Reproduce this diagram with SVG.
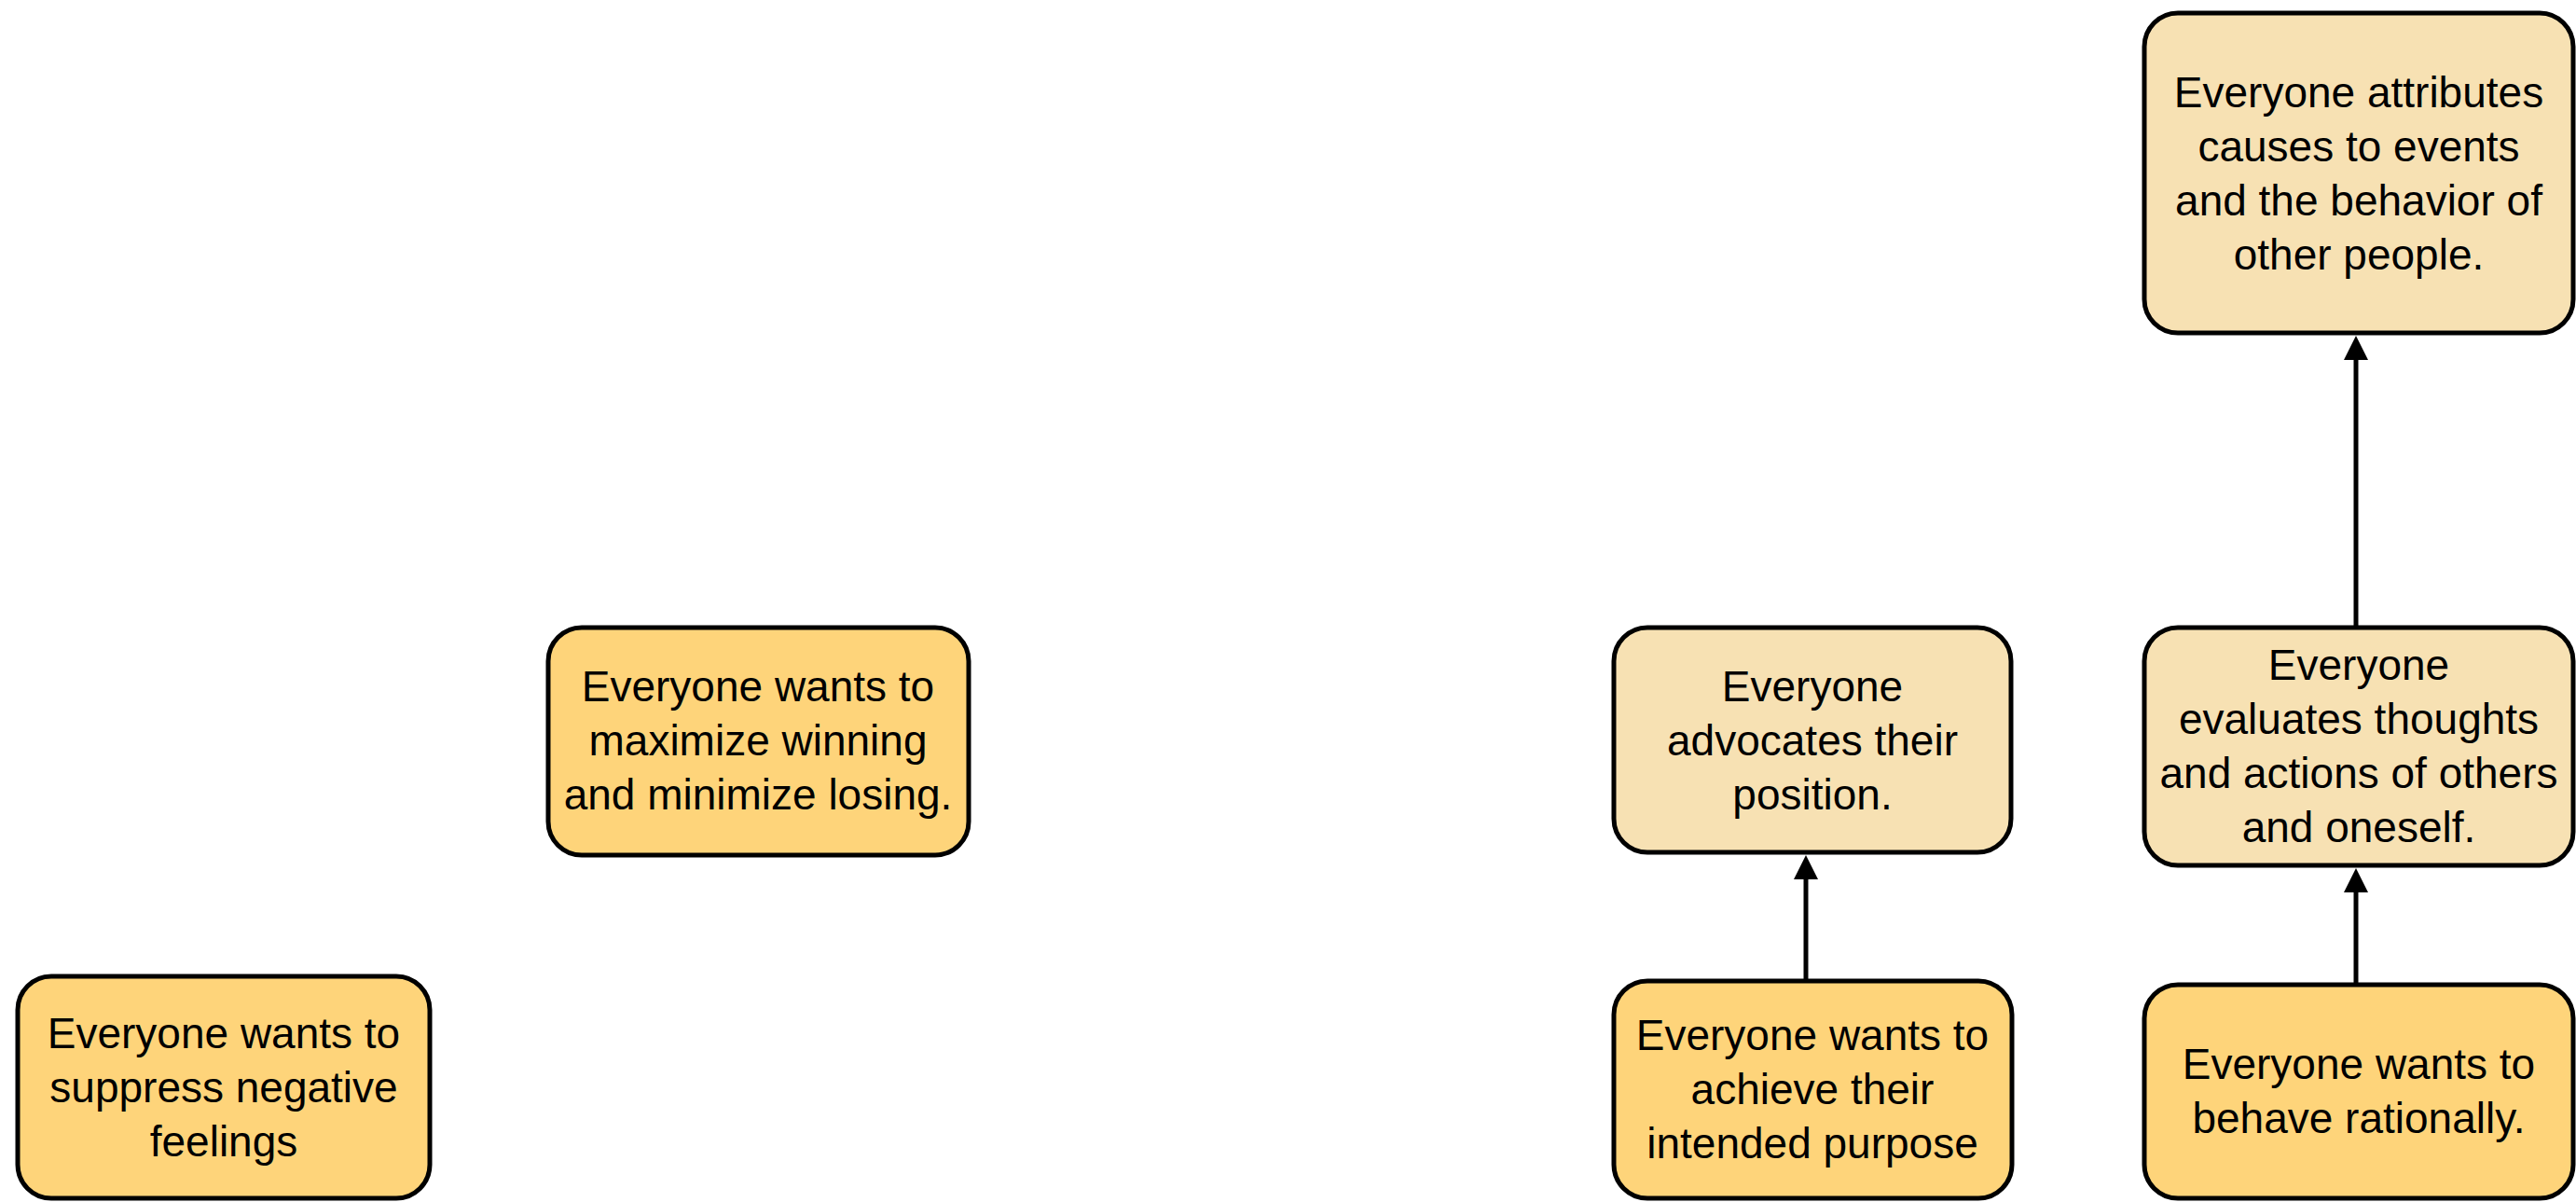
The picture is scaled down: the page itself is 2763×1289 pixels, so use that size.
<svg xmlns="http://www.w3.org/2000/svg" width="2763" height="1289" viewBox="0 0 2763 1289">
<style>
.box{stroke:#000;stroke-width:5}
.light{fill:#F7E1B3}
.dark{fill:#FED47A}
.t{font-family:"Liberation Sans",Arial,sans-serif;font-size:46px;fill:#000;text-anchor:middle}
.conn{stroke:#000;stroke-width:5;fill:none}
</style>
<defs>
<marker id="ah" viewBox="0 0 26 26" markerWidth="26" markerHeight="26" refX="6" refY="13" orient="auto" markerUnits="userSpaceOnUse">
<path d="M0,0 L26,13 L0,26 z" fill="#000"/>
</marker>
</defs>
<rect width="2763" height="1289" fill="#fff"/>
<g id="connectors">
<path class="conn" d="M2527 671 L2527 380" marker-end="url(#ah)"/>
<path class="conn" d="M2527 1054 L2527 951" marker-end="url(#ah)"/>
<path class="conn" d="M1937 1050 L1937 937" marker-end="url(#ah)"/>
</g>
<g id="n-attributes">
<rect class="box light" x="2300" y="14" width="460" height="343" rx="36"/>
<text class="t"><tspan x="2530" y="115">Everyone attributes</tspan><tspan x="2530" y="173">causes to events</tspan><tspan x="2530" y="231">and the behavior of</tspan><tspan x="2530" y="289">other people.</tspan></text>
</g>
<g id="n-evaluates">
<rect class="box light" x="2300" y="673" width="460" height="255" rx="36"/>
<text class="t"><tspan x="2530" y="729">Everyone</tspan><tspan x="2530" y="787">evaluates thoughts</tspan><tspan x="2530" y="845">and actions of others</tspan><tspan x="2530" y="903">and oneself.</tspan></text>
</g>
<g id="n-rational">
<rect class="box dark" x="2300" y="1056" width="460" height="229" rx="36"/>
<text class="t"><tspan x="2530" y="1157">Everyone wants to</tspan><tspan x="2530" y="1215">behave rationally.</tspan></text>
</g>
<g id="n-advocates">
<rect class="box light" x="1731" y="673" width="426" height="241" rx="36"/>
<text class="t"><tspan x="1944" y="752">Everyone</tspan><tspan x="1944" y="810">advocates their</tspan><tspan x="1944" y="868">position.</tspan></text>
</g>
<g id="n-purpose">
<rect class="box dark" x="1731" y="1052" width="427" height="233" rx="36"/>
<text class="t"><tspan x="1944" y="1126">Everyone wants to</tspan><tspan x="1944" y="1184">achieve their</tspan><tspan x="1944" y="1242">intended purpose</tspan></text>
</g>
<g id="n-maximize">
<rect class="box dark" x="588" y="673" width="451" height="244" rx="36"/>
<text class="t"><tspan x="813" y="752">Everyone wants to</tspan><tspan x="813" y="810">maximize winning</tspan><tspan x="813" y="868">and minimize losing.</tspan></text>
</g>
<g id="n-suppress">
<rect class="box dark" x="19" y="1047" width="442" height="238" rx="36"/>
<text class="t"><tspan x="240" y="1124">Everyone wants to</tspan><tspan x="240" y="1182">suppress negative</tspan><tspan x="240" y="1240">feelings</tspan></text>
</g>
</svg>
